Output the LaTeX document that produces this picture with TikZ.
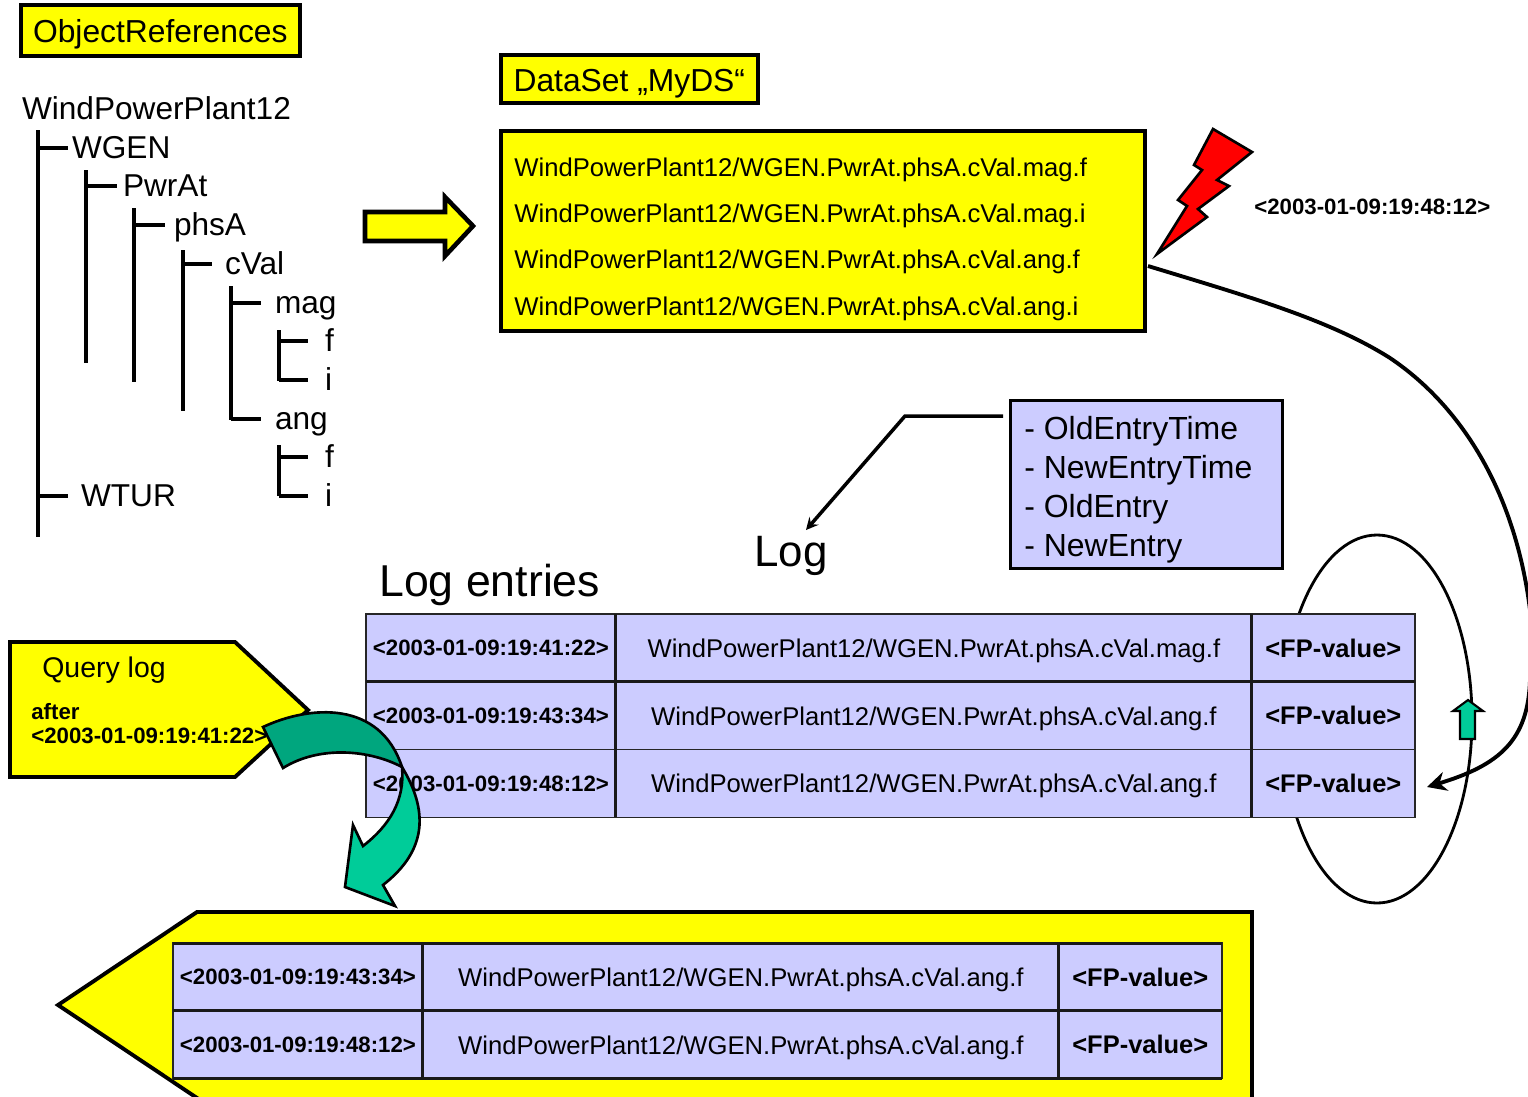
\documentclass[tikz,border=0pt]{standalone}
\usepackage{fontspec}
\setmainfont{Liberation Sans}
\usetikzlibrary{positioning, arrows, arrows.meta}
\definecolor{boxyellow}{HTML}{FFFF00}
\definecolor{logblue}{HTML}{CCCCFF}
\definecolor{arrowlight}{HTML}{00CC99}
\definecolor{arrowdark}{HTML}{00A67E}
\tikzset{
  >=stealth,
  yellowbox/.style={draw, line width=2.1pt, fill=boxyellow, anchor=north west},
  titlefont/.style={text height=15.3pt, text depth=1pt, font=\fontsize{18.1}{22}\selectfont},
  bluecell/.style={draw=black!85, line width=0.9pt, fill=logblue, outer sep=0pt, inner sep=0pt,
    minimum height=1.356cm, font=\fontsize{14.6}{18}\selectfont},
  tscell/.style={bluecell, minimum width=5cm, font=\fontsize{12.65}{15}\selectfont\bfseries},
  pathcell/.style={bluecell, minimum width=12.72cm, text height=11.9pt, text depth=1.2pt},
  fpcell/.style={bluecell, minimum width=3.26cm, font=\fontsize{14.5}{18}\selectfont\bfseries},
  cellrule/.style={line width=1.7pt, black!90},
  treelabel/.style={anchor=west, inner ysep=0pt, inner xsep=#1*0.02cm, outer sep=0pt, text height=13pt, text depth=0.6pt,
    font=\fontsize{18}{22}\selectfont},
  treeline/.style={line width=2pt},
  stamp/.style={anchor=west, inner sep=0pt, font=\fontsize{12.65}{15}\selectfont\bfseries},
  heading/.style={inner sep=0pt, font=\fontsize{25.4}{30}\selectfont},
}

\begin{document}
\begin{tikzpicture}[x=0.02cm, y=-0.02cm]
      \useasboundingbox (0,0) rectangle (1528,1096);
      \clip (0,0) rectangle (1528,1096);

      \node[yellowbox,titlefont,minimum width=5.58cm,minimum height=1.02cm] (objrefs) at (19,3) {ObjectReferences};
      \node[yellowbox,titlefont,minimum width=5.14cm,minimum height=0.96cm] (dsname) at (499,53) {DataSet „MyDS“};
      \node[yellowbox,minimum width=12.88cm,minimum height=4cm] (dsbox) at (499,129) {};
      \node[anchor=west,inner sep=0pt,align=left,font=\fontsize{14.6}{26.4}\selectfont] (dslist) at (514,239)
        {WindPowerPlant12/WGEN.PwrAt.phsA.cVal.mag.f\\
         WindPowerPlant12/WGEN.PwrAt.phsA.cVal.mag.i\\
         WindPowerPlant12/WGEN.PwrAt.phsA.cVal.ang.f\\
         WindPowerPlant12/WGEN.PwrAt.phsA.cVal.ang.i};

      \node[treelabel=4]  (plant) at (18,109)  {WindPowerPlant12};
      \node[treelabel=4]  (wgen)  at (68,148)  {WGEN};
      \node[treelabel=6]  (pwrat) at (117,186) {PwrAt};
      \node[treelabel=9]  (phsa)  at (165,225) {phsA};
      \node[treelabel=13] (cval)  at (212,264) {cVal};
      \node[treelabel=14] (mag)   at (261,303) {mag};
      \node[treelabel=17] (magf)  at (308,341) {f};
      \node[treelabel=17] (magi)  at (308,380) {i};
      \node[treelabel=14] (ang)   at (261,419) {ang};
      \node[treelabel=17] (angf)  at (308,457) {f};
      \node[treelabel=17] (angi)  at (308,496) {i};
      \node[treelabel=13] (wtur)  at (68,496)  {WTUR};

      \coordinate (trunk0) at (38,130);
      \coordinate (trunk1) at (86,170);
      \coordinate (trunk2) at (134,208);
      \coordinate (trunk3) at (183,250);
      \coordinate (trunk4) at (231,286);
      \coordinate (trunk5) at (279,330);
      \coordinate (trunk6) at (279,445);

      \draw[treeline] (trunk0) -- (38,537)  (trunk0 |- wgen.west)  -- (wgen.west)  (trunk0 |- wtur.west) -- (wtur.west)
                      (trunk1) -- (86,363)  (trunk1 |- pwrat.west) -- (pwrat.west)
                      (trunk2) -- (134,382) (trunk2 |- phsa.west)  -- (phsa.west)
                      (trunk3) -- (183,411) (trunk3 |- cval.west)  -- (cval.west)
                      (trunk4) -- (231,420) (trunk4 |- mag.west)   -- (mag.west)   (trunk4 |- ang.west)  -- (ang.west)
                      (trunk5) -- (279,381) (trunk5 |- magf.west)  -- (magf.west)  (trunk5 |- magi.west) -- (magi.west)
                      (trunk6) -- (279,496) (trunk6 |- angf.west)  -- (angf.west)  (trunk6 |- angi.west) -- (angi.west);

      \draw[line width=2.6pt, fill=boxyellow] (365,212) -- (445,212) -- (445,197) -- (473,226) -- (445,256) -- (445,241) -- (365,241) -- cycle;

      \draw[line width=1.5pt, fill=red] (1213,129) -- (1252,152) -- (1217,180) -- (1229,186) -- (1198,209) -- (1207,217) -- (1157,254)
        -- (1187,206) -- (1178,200) -- (1202,170) -- (1194,165) -- cycle;
      \node[stamp] (eventtime) at (1254,207) {<2003-01-09:19:48:12>};

      \node[draw,line width=1.7pt,fill=logblue,anchor=north west,minimum width=5.44cm,minimum height=3.36cm] (attrbox) at (1009,399) {};
      \node[anchor=west,inner sep=0pt,align=left,font=\fontsize{18.2}{22.2}\selectfont] (attrlist) at (1024,490)
        {- OldEntryTime\\- NewEntryTime\\- OldEntry\\- NewEntry};

      \node[heading,font=\fontsize{25}{30}\selectfont] (logtitle) at (791,556) {Log};
      \node[heading,anchor=west] (entries) at (379,585) {Log entries};

      \coordinate (attrstart) at (1003,416);
      \coordinate (logtip) at (806,530);
      \draw[->,line width=2pt] (attrstart) -- (905,416) -- (logtip);

      \draw[line width=1.6pt] (1377,719) ellipse (95 and 184);

      \node[tscell,anchor=north west] (ts1) at (366,614) {<2003-01-09:19:41:22>};
      \node[pathcell,right=0pt of ts1] (path1) {WindPowerPlant12/WGEN.PwrAt.phsA.cVal.mag.f};
      \node[fpcell,right=0pt of path1] (fp1) {<FP-value>};
      \node[tscell,below=0pt of ts1] (ts2) {<2003-01-09:19:43:34>};
      \node[pathcell,right=0pt of ts2] (path2) {WindPowerPlant12/WGEN.PwrAt.phsA.cVal.ang.f};
      \node[fpcell,right=0pt of path2] (fp2) {<FP-value>};
      \node[tscell,below=0pt of ts2] (ts3) {<2003-01-09:19:48:12>};
      \node[pathcell,right=0pt of ts3] (path3) {WindPowerPlant12/WGEN.PwrAt.phsA.cVal.ang.f};
      \node[fpcell,right=0pt of path3] (fp3) {<FP-value>};
      \draw[cellrule] (ts1.south west) -- (fp1.south east)
                      (ts1.north east) -- (ts3.south east)
                      (fp1.north west) -- (fp3.south west);

      \draw[line width=1.2pt, fill=arrowlight] (1468,700) -- (1483,711) -- (1475,711) -- (1475,739) -- (1460,739) -- (1460,711) -- (1453,711) -- cycle;

      \coordinate (feedstart) at (1148,266);
      \coordinate (feedend) at (1427,787);
      \draw[-{Stealth[length=11pt,width=11pt]},line width=2.2pt] (feedstart) .. controls (1250,297) and (1330,320) .. (1390,358)
        .. controls (1460,405) and (1515,490) .. (1530,610) -- (1530,680)
        .. controls (1528,740) and (1500,765) .. (feedend);

      \draw[line width=2.2pt, fill=boxyellow] (10,642) -- (235,642) -- (308,710) -- (235,777) -- (10,777) -- cycle;
      \node[anchor=west,inner sep=0pt,font=\fontsize{16.2}{20}\selectfont] (querytitle) at (42,670) {Query log};
      \node[stamp] (queryafter) at (31,712) {after};
      \node[stamp] (querytime) at (31,736) {<2003-01-09:19:41:22>};

      \draw[line width=2.2pt, fill=boxyellow] (197,912) -- (1252,912) -- (1252,1110) -- (215,1110) -- (58,1005) -- cycle;
      \node[tscell,anchor=north west] (res1) at (173,943) {<2003-01-09:19:43:34>};
      \node[pathcell,right=0pt of res1] (respath1) {WindPowerPlant12/WGEN.PwrAt.phsA.cVal.ang.f};
      \node[fpcell,right=0pt of respath1] (resfp1) {<FP-value>};
      \node[tscell,below=0pt of res1] (res2) {<2003-01-09:19:48:12>};
      \node[pathcell,right=0pt of res2] (respath2) {WindPowerPlant12/WGEN.PwrAt.phsA.cVal.ang.f};
      \node[fpcell,right=0pt of respath2] (resfp2) {<FP-value>};
      \draw[cellrule] (res1.south west) -- (resfp1.south east)
                      (res1.north west) -- (resfp1.north east)
                      (res2.south west) -- (resfp2.south east)
                      (res1.north east) -- (res2.south east)
                      (resfp1.north west) -- (resfp2.south west);

      \draw[line width=1.5pt, fill=arrowlight] (402,767) .. controls (428,810) and (428,850) .. (383,885)
        -- (395,906) -- (345,887) -- (353,825) -- (363,846)
        .. controls (390,825) and (405,800) .. (402,767) -- cycle;
      \draw[line width=1.5pt, fill=arrowdark] (263,727) .. controls (310,705) and (380,700) .. (402,767)
        .. controls (370,750) and (320,745) .. (283,768) -- cycle;
\end{tikzpicture}
\end{document}
